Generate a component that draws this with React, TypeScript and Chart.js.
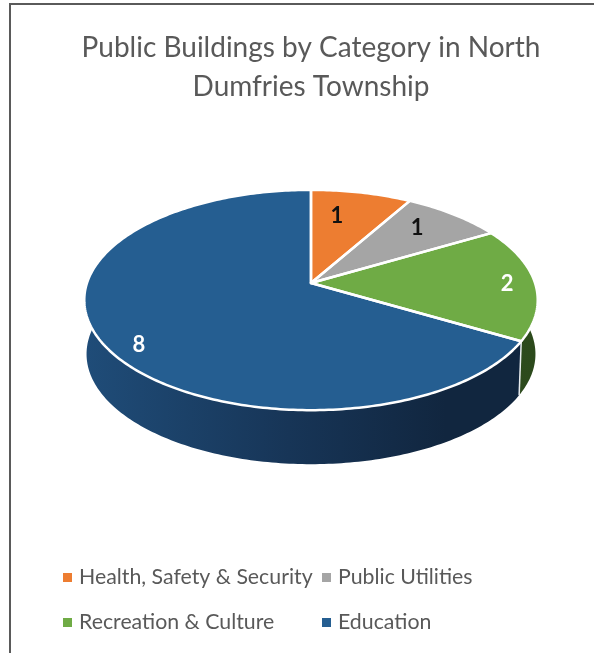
import React, { useEffect, useRef } from "react";
import { Chart, registerables } from "chart.js";

Chart.register(...registerables);

const categories = ["Health, Safety & Security", "Public Utilities", "Recreation & Culture", "Education"];
const buildings = [1, 1, 2, 8];
const sliceColors = ["#ED7D31", "#A5A5A5", "#6FAB45", "#255E91"];
const titleLines = ["Public Buildings by Category in North", "Dumfries Township"];

const FONT = "Lato";
const TEXT = "#595959";
// Perspective of the tilted disc
const SQUASH = 0.48;
const TILT = -0.1545;
const DEPTH = 54;
const BASE_SCALE = 0.99;

function project(el: any, angle: number, r = 1, scale = 1, drop = 0) {
  const u = Math.cos(angle) * r;
  const v = Math.sin(angle) * r;
  const w = 1 + TILT * v;
  return {
    x: el.x + (el.outerRadius * scale * u) / w,
    y: el.y + (el.outerRadius * SQUASH * v) / w + drop,
  };
}

function rimPoints(el: any, from: number, to: number, scale = 1, drop = 0) {
  const n = Math.max(2, Math.ceil(Math.abs(to - from) * 60));
  const pts = [];
  for (let i = 0; i <= n; i++) pts.push(project(el, from + ((to - from) * i) / n, 1, scale, drop));
  return pts;
}

function trace(ctx: CanvasRenderingContext2D, pts: { x: number; y: number }[]) {
  pts.forEach((p, i) => (i ? ctx.lineTo(p.x, p.y) : ctx.moveTo(p.x, p.y)));
}

function trace2(ctx: CanvasRenderingContext2D, pts: { x: number; y: number }[]) {
  pts.forEach((p) => ctx.lineTo(p.x, p.y));
}

const disc3d = {
  id: "disc3d",
  beforeDraw(chart: any) {
    const { ctx, width, height } = chart;
    ctx.save();
    ctx.strokeStyle = "#5a5a5a";
    ctx.lineWidth = 2;
    ctx.beginPath();
    ctx.moveTo(10, height);
    ctx.lineTo(10, 4);
    ctx.lineTo(width, 4);
    ctx.stroke();
    ctx.restore();
  },
  beforeDatasetDraw(chart: any, args: any) {
    const { ctx } = chart;
    const arcs = args.meta.data;
    ctx.save();
    ctx.lineJoin = "round";
    // side walls
    arcs.forEach((el: any, i: number) => {
      const bottom = rimPoints(el, el.endAngle, el.startAngle, BASE_SCALE, DEPTH);
      const top = rimPoints(el, el.startAngle, el.endAngle);
      ctx.beginPath();
      trace(ctx, top);
      bottom.forEach((p) => ctx.lineTo(p.x, p.y));
      ctx.closePath();
      const g = ctx.createLinearGradient(el.x - el.outerRadius, 0, el.x + el.outerRadius, 0);
      if (i === arcs.length - 1) {
        g.addColorStop(0, "#1F4C78");
        g.addColorStop(0.45, "#173557");
        g.addColorStop(0.8, "#11263F");
        g.addColorStop(1, "#11263F");
      } else {
        g.addColorStop(0, "#3B5C28");
        g.addColorStop(1, "#2C4A1C");
      }
      ctx.fillStyle = g;
      ctx.fill();
    });
    // seam between the walls
    const last = arcs[arcs.length - 1];
    const a = project(last, last.startAngle);
    const b = project(last, last.startAngle, 1, BASE_SCALE, DEPTH);
    ctx.strokeStyle = "#E8ECEF";
    ctx.lineWidth = 1.5;
    ctx.beginPath();
    ctx.moveTo(a.x, a.y);
    ctx.lineTo(b.x, b.y);
    ctx.stroke();
    // top faces
    arcs.forEach((el: any) => {
      ctx.beginPath();
      ctx.moveTo(el.x, el.y);
      trace2(ctx, rimPoints(el, el.startAngle, el.endAngle));
      ctx.closePath();
      ctx.fillStyle = el.options.backgroundColor;
      ctx.fill();
    });
    arcs.forEach((el: any) => {
      ctx.beginPath();
      ctx.moveTo(el.x, el.y);
      trace2(ctx, rimPoints(el, el.startAngle, el.endAngle));
      ctx.closePath();
      ctx.strokeStyle = el.options.borderColor;
      ctx.lineWidth = el.options.borderWidth;
      ctx.stroke();
    });
    ctx.restore();
    return false;
  },
  afterDraw(chart: any) {
    const { ctx } = chart;
    const arcs = chart.getDatasetMeta(0).data;
    const values = chart.data.datasets[0].data;
    const colors = chart.data.datasets[0].backgroundColor;
    // value labels: [radius fraction, angle shift]
    const anchors = [
      [0.702, -0.079],
      [0.757, -0.038],
      [0.875, 0.009],
      [0.882, -0.12],
    ];
    const ink = ["#111111", "#111111", "#FFFFFF", "#FFFFFF"];
    ctx.save();
    ctx.textAlign = "center";
    ctx.textBaseline = "middle";
    ctx.font = `700 22px ${FONT}`;
    arcs.forEach((el: any, i: number) => {
      const mid = (el.startAngle + el.endAngle) / 2 + anchors[i][1];
      const p = project(el, mid, anchors[i][0]);
      ctx.fillStyle = ink[i];
      ctx.fillText(String(values[i]), p.x, p.y);
    });
    // two-column legend
    const cols = [63, 322];
    const rows = [577.5, 622.5];
    ctx.textAlign = "left";
    ctx.font = `400 21.3px ${FONT}`;
    categories.forEach((label, i) => {
      const x = cols[i % 2];
      const y = rows[Math.floor(i / 2)];
      ctx.fillStyle = colors[i];
      ctx.fillRect(x, y - 4.5, 9, 9);
      ctx.fillStyle = TEXT;
      ctx.fillText(label, x + 16, y);
    });
    ctx.restore();
  },
};

export default function App() {
  const ref = useRef<HTMLCanvasElement>(null);
  useEffect(() => {
    document.body.style.margin = "0";
    const chart = new Chart(ref.current as HTMLCanvasElement, {
      type: "pie",
      data: {
        labels: categories,
        datasets: [
          {
            data: buildings,
            backgroundColor: sliceColors,
            borderColor: "#FFFFFF",
            borderWidth: 2.5,
          },
        ],
      },
      options: {
        responsive: false,
        animation: false,
        radius: 224,
        layout: { padding: { left: 28, bottom: 203.4 } },
        plugins: {
          legend: { display: false },
          tooltip: { enabled: false },
          title: {
            display: true,
            text: titleLines,
            color: TEXT,
            font: { family: FONT, size: 28, weight: "400", lineHeight: 1.4 },
            padding: { top: 28, bottom: 10 },
          },
        },
      },
      plugins: [disc3d],
    } as any);
    return () => chart.destroy();
  }, []);
  return (
    <div style={{ width: 594, height: 653, background: "#fff" }}>
      <canvas ref={ref} width={594} height={653} style={{ display: "block" }} />
    </div>
  );
}
